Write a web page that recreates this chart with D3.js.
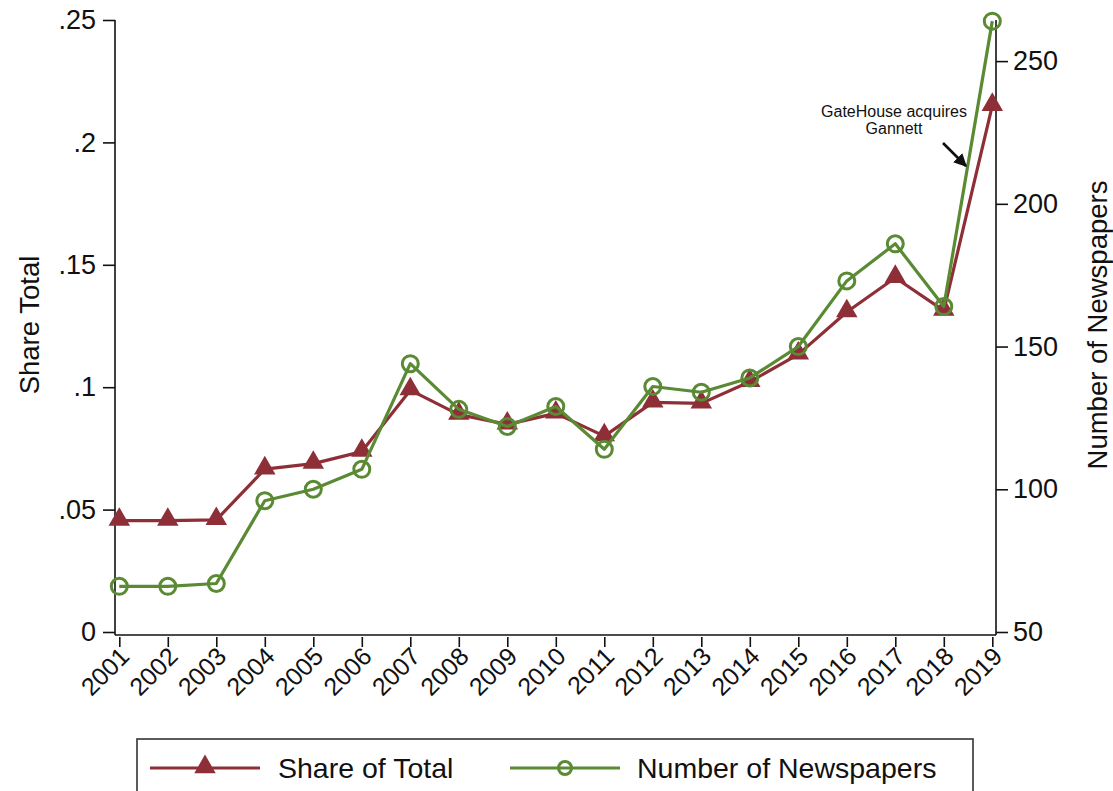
<!DOCTYPE html>
<html>
<head>
<meta charset="utf-8">
<script src="https://cdn.jsdelivr.net/npm/d3@7"></script>
<style>
  html, body { margin: 0; padding: 0; background: #fff; }
  svg { display: block; font-family: "Liberation Sans", Arial, Helvetica, sans-serif; }
</style>
</head>
<body>
<svg id="chart" width="1113" height="791"></svg>
<script>
// Newspaper counts and share of total, by year
const years = [2001, 2002, 2003, 2004, 2005, 2006, 2007, 2008, 2009, 2010,
               2011, 2012, 2013, 2014, 2015, 2016, 2017, 2018, 2019];
const shareOfTotal = [0.0455, 0.0455, 0.0458, 0.0665, 0.0688, 0.0737, 0.0988, 0.0888, 0.0848, 0.0893,
                      0.0800, 0.0938, 0.0934, 0.1022, 0.1134, 0.1307, 0.1447, 0.1313, 0.2150];
const newspapers = [66, 66, 67, 96, 100, 107, 144, 128, 122, 129,
                    114, 136, 134, 139, 150, 173, 186, 164, 264];
const leftTicks = [0, 0.05, 0.1, 0.15, 0.2, 0.25];
const leftTickLabels = ["0", ".05", ".1", ".15", ".2", ".25"];
const rightTicks = [50, 100, 150, 200, 250];
const seriesNames = ["Share of Total", "Number of Newspapers"];
const annotationLines = ["GateHouse acquires", "Gannett"];

const RED = "#8e2f37";
const GREEN = "#5a8a34";

const svg = d3.select("#chart");

const x = d3.scaleLinear().domain([2001, 2019]).range([119.3, 992.3]);
const yL = d3.scaleLinear().domain([0, 0.25]).range([632, 20]);
const yR = d3.scaleLinear().domain([50, 264.4]).range([632, 20]);

const axisX0 = 115, axisX1 = 996, axisY = 635, axisTop = 20;

// Axis frame lines
svg.append("line").attr("x1", axisX0).attr("x2", axisX0).attr("y1", axisTop).attr("y2", axisY)
  .attr("stroke", "#111").attr("stroke-width", 1.6);
svg.append("line").attr("x1", axisX1).attr("x2", axisX1).attr("y1", axisTop).attr("y2", axisY)
  .attr("stroke", "#111").attr("stroke-width", 1.6);
svg.append("line").attr("x1", axisX0).attr("x2", axisX1).attr("y1", axisY).attr("y2", axisY)
  .attr("stroke", "#111").attr("stroke-width", 1.6);

// Left axis
const leftAxis = d3.axisLeft(yL).tickValues(leftTicks)
  .tickFormat((d, i) => leftTickLabels[i]).tickSize(12).tickPadding(7);
const gL = svg.append("g").attr("transform", `translate(${axisX0},0)`).call(leftAxis);
gL.select(".domain").remove();
gL.selectAll(".tick line").attr("stroke", "#111").attr("stroke-width", 1.6);
gL.selectAll(".tick text").attr("font-size", 27).attr("fill", "#111");

// Right axis
const rightAxis = d3.axisRight(yR).tickValues(rightTicks).tickSize(12).tickPadding(5);
const gR = svg.append("g").attr("transform", `translate(${axisX1},0)`).call(rightAxis);
gR.select(".domain").remove();
gR.selectAll(".tick line").attr("stroke", "#111").attr("stroke-width", 1.6);
gR.selectAll(".tick text").attr("font-size", 27).attr("fill", "#111");

// Bottom axis with slanted year labels
const bottomAxis = d3.axisBottom(x).tickValues(years).tickFormat(d3.format("d")).tickSize(10);
const gB = svg.append("g").attr("transform", `translate(0,${axisY + 2})`).call(bottomAxis);
gB.select(".domain").remove();
gB.selectAll(".tick line").attr("stroke", "#111").attr("stroke-width", 1.6);
gB.selectAll(".tick text")
  .attr("font-size", 25).attr("fill", "#111")
  .attr("text-anchor", "end")
  .attr("dy", null).attr("y", 0)
  .attr("transform", "translate(11,21) rotate(-45)");

// Axis titles
svg.append("text").attr("transform", "translate(39,325) rotate(-90)")
  .attr("text-anchor", "middle").attr("font-size", 27.5).attr("fill", "#111").text("Share Total");
svg.append("text").attr("transform", "translate(1107,325) rotate(-90)")
  .attr("text-anchor", "middle").attr("font-size", 27.5).attr("fill", "#111").text("Number of Newspapers");

// Series
const idx = d3.range(years.length);
const lineL = d3.line().x(i => x(years[i])).y(i => yL(shareOfTotal[i]));
const lineR = d3.line().x(i => x(years[i])).y(i => yR(newspapers[i]));

const tri = d3.symbol().type(d3.symbolTriangle).size(200);

svg.append("path").datum(idx).attr("d", lineL)
  .attr("fill", "none").attr("stroke", RED).attr("stroke-width", 3.2).attr("stroke-linejoin", "round");
svg.append("g").selectAll("path").data(idx).join("path")
  .attr("d", tri)
  .attr("transform", i => `translate(${x(years[i])},${yL(shareOfTotal[i]) - 1})`)
  .attr("fill", RED);

svg.append("path").datum(idx).attr("d", lineR)
  .attr("fill", "none").attr("stroke", GREEN).attr("stroke-width", 3.2).attr("stroke-linejoin", "round");
svg.append("g").selectAll("circle").data(idx).join("circle")
  .attr("cx", i => x(years[i])).attr("cy", i => yR(newspapers[i]))
  .attr("r", 8).attr("fill", "none").attr("stroke", GREEN).attr("stroke-width", 3);

// Annotation with arrow
svg.append("defs").append("marker")
  .attr("id", "arrowhead").attr("viewBox", "0 0 10 10").attr("refX", 9).attr("refY", 5)
  .attr("markerWidth", 5).attr("markerHeight", 5).attr("orient", "auto")
  .append("path").attr("d", "M0,0 L10,5 L0,10 Z").attr("fill", "#111");
svg.append("line").attr("x1", 943).attr("y1", 143).attr("x2", 966).attr("y2", 166)
  .attr("stroke", "#111").attr("stroke-width", 2.6).attr("marker-end", "url(#arrowhead)");
svg.append("text").attr("x", 894).attr("y", 117).attr("text-anchor", "middle")
  .attr("font-size", 16).attr("fill", "#111")
  .selectAll("tspan").data(annotationLines).join("tspan")
  .attr("x", 894).attr("dy", (d, i) => i === 0 ? 0 : 17).text(d => d);

// Legend
const legend = svg.append("g");
legend.append("rect").attr("x", 137).attr("y", 739).attr("width", 836).attr("height", 80)
  .attr("fill", "#fff").attr("stroke", "#333").attr("stroke-width", 1.6);
const legY = 768;
const legendItems = [
  { name: seriesNames[0], color: RED, x0: 150, x1: 260, textX: 278, shape: "tri" },
  { name: seriesNames[1], color: GREEN, x0: 510, x1: 620, textX: 637, shape: "circle" }
];
legendItems.forEach(it => {
  legend.append("line").attr("x1", it.x0).attr("x2", it.x1).attr("y1", legY).attr("y2", legY)
    .attr("stroke", it.color).attr("stroke-width", 3.2);
  const cx = (it.x0 + it.x1) / 2;
  if (it.shape === "tri") {
    legend.append("path").attr("d", tri).attr("transform", `translate(${cx},${legY - 1})`).attr("fill", it.color);
  } else {
    legend.append("circle").attr("cx", cx).attr("cy", legY).attr("r", 6.5)
      .attr("fill", "none").attr("stroke", it.color).attr("stroke-width", 3);
  }
  legend.append("text").attr("x", it.textX).attr("y", legY + 10).attr("font-size", 28.5)
    .attr("fill", "#111").text(it.name);
});
</script>
</body>
</html>
